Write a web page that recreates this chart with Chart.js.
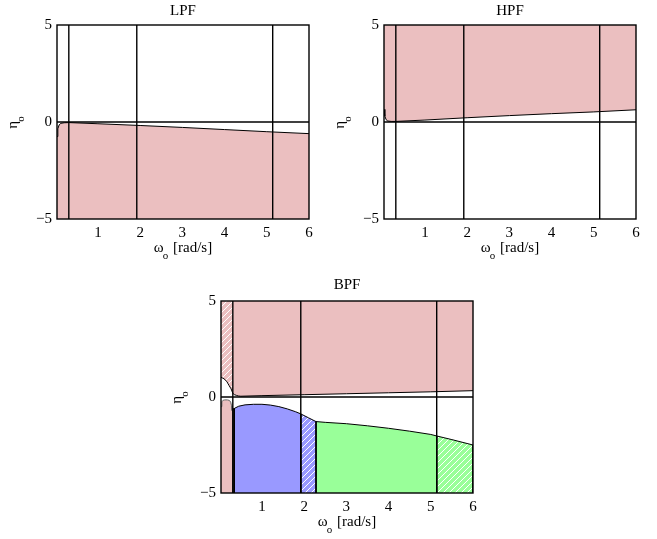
<!DOCTYPE html>
<html>
<head>
<meta charset="utf-8">
<script src="https://cdn.jsdelivr.net/npm/chart.js@4"></script>
<style>
  html, body { margin: 0; padding: 0; background: #fff; }
  body { width: 657px; height: 539px; position: relative; overflow: hidden; }
  .panel { position: absolute; }
</style>
</head>
<body>
<div class="panel" style="left:0;top:0"><canvas id="lpf" width="330" height="270"></canvas></div>
<div class="panel" style="left:330px;top:0"><canvas id="hpf" width="327" height="270"></canvas></div>
<div class="panel" style="left:150px;top:270px"><canvas id="bpf" width="340" height="269"></canvas></div>
<script>
/* filter design regions: LPF / HPF / BPF */
const X_MIN = 0.03, X_MAX = 6, Y_MIN = -5, Y_MAX = 5;
const xTicks = [1, 2, 3, 4, 5, 6];
const yTicks = [-5, 0, 5];
const markerX = [0.31, 1.92, 5.14];

// LPF boundary (filled below)
const lpfX = [0.03, 0.05, 0.08, 0.12, 0.2, 0.31, 1, 2, 3, 4, 5, 6];
const lpfY = [-0.75, -0.35, -0.15, -0.07, -0.04, -0.03, -0.09, -0.18, -0.28, -0.39, -0.5, -0.6];

// HPF boundary (filled above)
const hpfX = [0.03, 0.05, 0.08, 0.12, 0.2, 0.31, 1, 2, 3, 4, 5, 6];
const hpfY = [0.65, 0.3, 0.12, 0.05, 0.03, 0.03, 0.1, 0.22, 0.33, 0.43, 0.52, 0.63];

// BPF regions
const bpfHatchTopX = [0.03, 0.1, 0.17, 0.22, 0.27, 0.31];
const bpfHatchTopY = [1.03, 0.95, 0.8, 0.6, 0.42, 0.19];
const bpfTopX = [0.31, 0.35, 0.4, 0.45, 0.5, 1, 2, 3, 4, 5, 6];
const bpfTopY = [0.19, 0.12, 0.08, 0.05, 0.04, 0.07, 0.12, 0.17, 0.22, 0.27, 0.33];
const bpfPinkLowX = [0.03, 0.05, 0.08, 0.12, 0.18, 0.23, 0.26, 0.28, 0.29];
const bpfPinkLowY = [-0.5, -0.25, -0.17, -0.15, -0.15, -0.18, -0.27, -0.45, -0.7];
const bpfDarkX = [0.31, 0.35];
const bpfDarkY = [-0.62, -0.6];
const bpfBlueX = [0.35, 0.45, 0.6, 0.8, 1.0, 1.2, 1.4, 1.6, 1.8, 1.92];
const bpfBlueY = [-0.59, -0.48, -0.41, -0.38, -0.38, -0.42, -0.5, -0.62, -0.77, -0.88];
const bpfBlueHatchX = [1.92, 2.1, 2.28];
const bpfBlueHatchY = [-0.88, -1.08, -1.28];
const bpfGreenX = [2.28, 2.5, 3, 3.5, 4, 4.5, 5, 5.14];
const bpfGreenY = [-1.28, -1.32, -1.39, -1.5, -1.63, -1.78, -1.95, -2.03];
const bpfGreenHatchX = [5.14, 5.5, 6];
const bpfGreenHatchY = [-2.03, -2.22, -2.5];

const PINK = "#ebbfc0", BLUE = "#9999ff", GREEN = "#99ff99";
const FONT = '"Liberation Serif", "Times New Roman", serif';

function hatch(base) {
  const c = document.createElement("canvas");
  c.width = 6; c.height = 6;
  const g = c.getContext("2d");
  g.fillStyle = base; g.fillRect(0, 0, 6, 6);
  g.strokeStyle = "#fff"; g.lineWidth = 1;
  g.beginPath();
  g.moveTo(-1, 7); g.lineTo(7, -1);
  g.moveTo(-1, 1); g.lineTo(1, -1);
  g.moveTo(5, 7); g.lineTo(7, 5);
  g.stroke();
  return g.createPattern(c, "repeat");
}

const pts = (xs, ys) => xs.map((x, i) => ({ x, y: ys[i] }));

function area(xs, ys, fill, color, edges, border) {
  let data = pts(xs, ys);
  if (edges) {
    const yb = fill === "start" ? Y_MIN : Y_MAX;
    data = [{ x: xs[0], y: yb }, ...data, { x: xs[xs.length - 1], y: yb }];
  }
  return { data, fill, backgroundColor: color, borderColor: border || "#000", borderWidth: 1,
    pointRadius: 0, tension: 0, order: 2 };
}

function refLines() {
  const list = [{ data: [{ x: X_MIN, y: 0 }, { x: X_MAX, y: 0 }] }];
  markerX.forEach(x => list.push({ data: [{ x, y: Y_MIN }, { x, y: Y_MAX }] }));
  return list.map(d => Object.assign(d, { borderColor: "#000", borderWidth: 1.4, pointRadius: 0, fill: false, order: 0 }));
}

function drawSub(ctx, main, sub, rest, cx, base) {
  const big = "15px " + FONT, small = "11px " + FONT;
  ctx.font = big;
  const w1 = ctx.measureText(main).width, w3 = ctx.measureText(rest).width;
  ctx.font = small;
  const w2 = ctx.measureText(sub).width;
  let x = cx - (w1 + w2 + w3) / 2;
  ctx.textAlign = "left";
  ctx.font = big; ctx.fillText(main, x, base); x += w1 - 1;
  ctx.font = small; ctx.fillText(sub, x, base + 7); x += w2 + 1;
  ctx.font = big; ctx.fillText(rest, x, base);
}

const panelText = {
  id: "panelText",
  afterDraw(chart, args, opts) {
    const { ctx, chartArea: a } = chart;
    ctx.save();
    ctx.strokeStyle = "#000"; ctx.lineWidth = 1.4;
    ctx.strokeRect(a.left, a.top, a.right - a.left, a.bottom - a.top);
    ctx.fillStyle = "#000";
    const cx = (a.left + a.right) / 2;
    ctx.font = "15px " + FONT; ctx.textAlign = "center"; ctx.textBaseline = "alphabetic";
    ctx.fillText(opts.title, cx, a.top - opts.titleGap);
    drawSub(ctx, "\u03c9", "o", " [rad/s]", cx, a.bottom + 33);
    ctx.translate(a.left - 40, (a.top + a.bottom) / 2);
    ctx.rotate(-Math.PI / 2);
    drawSub(ctx, "\u03b7", "o", "", 0, 0);
    ctx.restore();
  }
};

function makeChart(id, datasets, box, title, titleGap) {
  const el = document.getElementById(id);
  const W = el.width, H = el.height;
  return new Chart(el, {
    type: "line",
    data: { datasets },
    plugins: [panelText],
    options: {
      responsive: false, animation: false, devicePixelRatio: 1,
      parsing: true,
      layout: { padding: { left: 0, top: box.top, right: W - box.right, bottom: 0 } },
      plugins: { legend: { display: false }, tooltip: { enabled: false }, panelText: { title, titleGap } },
      scales: {
        x: {
          type: "linear", min: X_MIN, max: X_MAX,
          grid: { display: false, drawTicks: false }, border: { display: false },
          afterBuildTicks: s => { s.ticks = xTicks.map(v => ({ value: v })); },
          afterFit: s => { s.height = H - box.bottom; },
          ticks: { color: "#000", font: { size: 15, family: FONT }, padding: 5, maxRotation: 0, autoSkip: false }
        },
        y: {
          type: "linear", min: Y_MIN, max: Y_MAX,
          grid: { display: false, drawTicks: false }, border: { display: false },
          afterBuildTicks: s => { s.ticks = yTicks.map(v => ({ value: v })); },
          afterFit: s => { s.width = box.left; },
          ticks: { color: "#000", font: { size: 15, family: FONT }, padding: 5,
            callback: v => v < 0 ? "\u2212" + Math.abs(v) : String(v) }
        }
      }
    }
  });
}

makeChart("lpf", [
  ...refLines(),
  area(lpfX, lpfY, "start", PINK, false)
], { left: 57, top: 25, right: 309, bottom: 219 }, "LPF", 10);

makeChart("hpf", [
  ...refLines(),
  area(hpfX, hpfY, "end", PINK, false)
], { left: 54, top: 25, right: 306, bottom: 219 }, "HPF", 10);

makeChart("bpf", [
  ...refLines(),
  area(bpfHatchTopX, bpfHatchTopY, "end", hatch(PINK), false),
  area(bpfTopX, bpfTopY, "end", PINK, false),
  area(bpfPinkLowX, bpfPinkLowY, "start", PINK, false, "#666"),
  area(bpfDarkX, bpfDarkY, "start", "#222", true),
  area(bpfBlueX, bpfBlueY, "start", BLUE, true),
  area(bpfBlueHatchX, bpfBlueHatchY, "start", hatch(BLUE), true),
  area(bpfGreenX, bpfGreenY, "start", GREEN, true),
  area(bpfGreenHatchX, bpfGreenHatchY, "start", hatch(GREEN), true)
], { left: 71, top: 31, right: 323, bottom: 223 }, "BPF", 12);
</script>
</body>
</html>
